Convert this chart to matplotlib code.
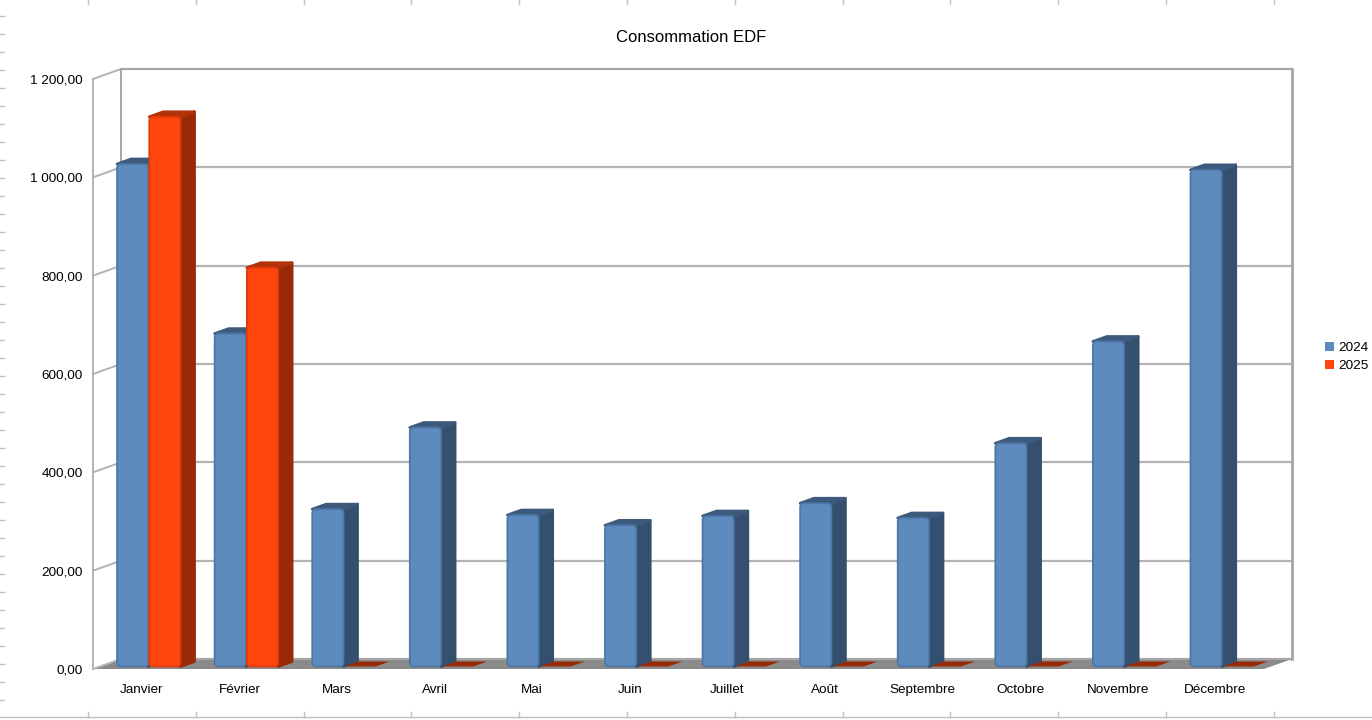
import matplotlib
matplotlib.use('Agg')
import matplotlib.pyplot as plt
from matplotlib.patches import Polygon, Patch, FancyBboxPatch
from matplotlib.lines import Line2D

# ---- data ----
months = ['Janvier', 'Février', 'Mars', 'Avril', 'Mai', 'Juin', 'Juillet',
          'Août', 'Septembre', 'Octobre', 'Novembre', 'Décembre']
conso_2024 = [1022, 677, 320, 486, 308, 287, 306, 332, 302, 454, 661, 1010]
conso_2025 = [1118, 811, 0, 0, 0, 0, 0, 0, 0, 0, 0, 0]
series_names = ['2024', '2025']
y_ticks = [0, 200, 400, 600, 800, 1000, 1200]
title = 'Consommation EDF'

plt.rcParams['font.family'] = ['Liberation Sans', 'DejaVu Sans']

W, H = 1372, 720
fig = plt.figure(figsize=(W / 100, H / 100), dpi=100)
fig.patch.set_facecolor('white')

L, R, T, B = 93, 1264, 79, 669
ax = fig.add_axes([L / W, 1 - B / H, (R - L) / W, (B - T) / H])
n = len(months)
ymax = y_ticks[-1]
ax.set_xlim(-0.5, n - 0.5)
ax.set_ylim(0, ymax)
ax.patch.set_visible(False)
for sp in ax.spines.values():
    sp.set_visible(False)

px_x = (R - L) / n        # pixels per category unit
px_y = (B - T) / ymax     # pixels per value unit
# oblique projection depth (full depth of the chart box)
DX = 28 / px_x
DY = 10 / px_y


def P(x, y, z):
    return (x + z * DX, y + z * DY)


grid_c = '#b3b3b3'
wall_c = '#a6a6a6'

# floor
ax.add_patch(Polygon([P(-0.5, 0, 0), P(n - 0.5, 0, 0), P(n - 0.5, 0, 1), P(-0.5, 0, 1)],
                     closed=True, fc='#8a8a8a', ec='none', clip_on=False, zorder=1))

# back wall gridlines & left wall diagonals
for v in y_ticks:
    (xa, ya), (xb, yb) = P(-0.5, v, 1), P(n - 0.5, v, 1)
    ax.plot([xa, xb], [ya, yb], color=grid_c if v not in (0, ymax) else wall_c,
            lw=1.6, clip_on=False, zorder=1.5, solid_capstyle='butt')
    (xa, ya), (xb, yb) = P(-0.5, v, 0), P(-0.5, v, 1)
    ax.plot([xa, xb], [ya, yb], color=grid_c, lw=1.4, clip_on=False, zorder=1.5)

for (x, z, c, lw) in [(-0.5, 1, wall_c, 1.4), (n - 0.5, 1, wall_c, 2.0), (-0.5, 0, grid_c, 1.4)]:
    (xa, ya), (xb, yb) = P(x, 0, z), P(x, ymax, z)
    ax.plot([xa, xb], [ya, yb], color=c, lw=lw, clip_on=False, zorder=1.5)

# bars
colors = [
    dict(front='#5e8bbd', side='#35506f', top='#3d5a7d', edge='#4d77a6'),
    dict(front='#ff450e', side='#992a07', top='#b3320a', edge='#e23b0b'),
]
bw = 0.32
z0, z1 = 0.25, 0.75
rad_px = 4.0
zo = 3
for i in range(n):
    for s, vals in enumerate([conso_2024, conso_2025]):
        c = colors[s]
        x0 = i - 0.325 + s * 0.33
        x1 = x0 + bw
        v = vals[i]
        top = [P(x0, v, z0), P(x1, v, z0), P(x1, v, z1), P(x0, v, z1)]
        if v > 0:
            side = [P(x1, 0, z0), P(x1, 0, z1), P(x1, v, z1), P(x1, v, z0)]
            ax.add_patch(Polygon(side, closed=True, fc=c['side'], ec=c['side'], lw=2.0,
                                 joinstyle='round', zorder=zo))
            ax.add_patch(Polygon(top, closed=True, fc=c['top'], ec=c['top'], lw=2.0,
                                 joinstyle='round', zorder=zo + 0.1))
            fx, fy = P(x0, 0, z0)
            ax.add_patch(FancyBboxPatch((fx, fy), bw, v,
                                        boxstyle=f'round,pad=0,rounding_size={rad_px / px_x}',
                                        mutation_aspect=px_x / px_y,
                                        fc=c['front'], ec=c['edge'], lw=1.3, zorder=zo + 0.2))
        else:
            ax.add_patch(Polygon(top, closed=True, fc=c['side'], ec='none',
                                 zorder=zo - 0.5, clip_on=False))
        zo += 1

# axes labels
def fr(v):
    return f'{v:,.2f}'.replace(',', ' ').replace('.', ',')

ax.set_yticks(y_ticks)
ax.set_yticklabels([fr(v) for v in y_ticks])
ax.set_xticks(range(n))
ax.set_xticklabels(months)
ax.tick_params(axis='both', length=0, labelsize=9.7, colors='black')
ax.tick_params(axis='y', pad=7.5)
ax.tick_params(axis='x', pad=11)

fig.text(691 / W, 1 - 38 / H, title, ha='center', va='center', fontsize=12)

handles = [Patch(facecolor=colors[0]['front'], edgecolor='none'),
           Patch(facecolor=colors[1]['front'], edgecolor='none')]
fig.legend(handles, series_names, loc='center left', bbox_to_anchor=(1325 / W, 1 - 357 / H),
           frameon=False, fontsize=9.7, handlelength=0.65, handleheight=0.65,
           handletextpad=0.35, labelspacing=0.45, borderpad=0, borderaxespad=0)

# spreadsheet page decorations
deco = '#c0c0c0'
for k in range(40):
    y = 16 + 18 * k
    if y > 712:
        break
    fig.add_artist(Line2D([0, 4 / W], [1 - y / H, 1 - y / H], color=deco, lw=1))
for k in range(12):
    x = (88 + 107.8 * k) / W
    fig.add_artist(Line2D([x, x], [1, 1 - 4 / H], color=deco, lw=1))
    fig.add_artist(Line2D([x, x], [1 - 712 / H, 1 - 717 / H], color=deco, lw=1))
fig.add_artist(Line2D([0, 1], [1 - 717 / H, 1 - 717 / H], color=deco, lw=1))

fig.savefig('out.png', dpi=100, facecolor='white')
